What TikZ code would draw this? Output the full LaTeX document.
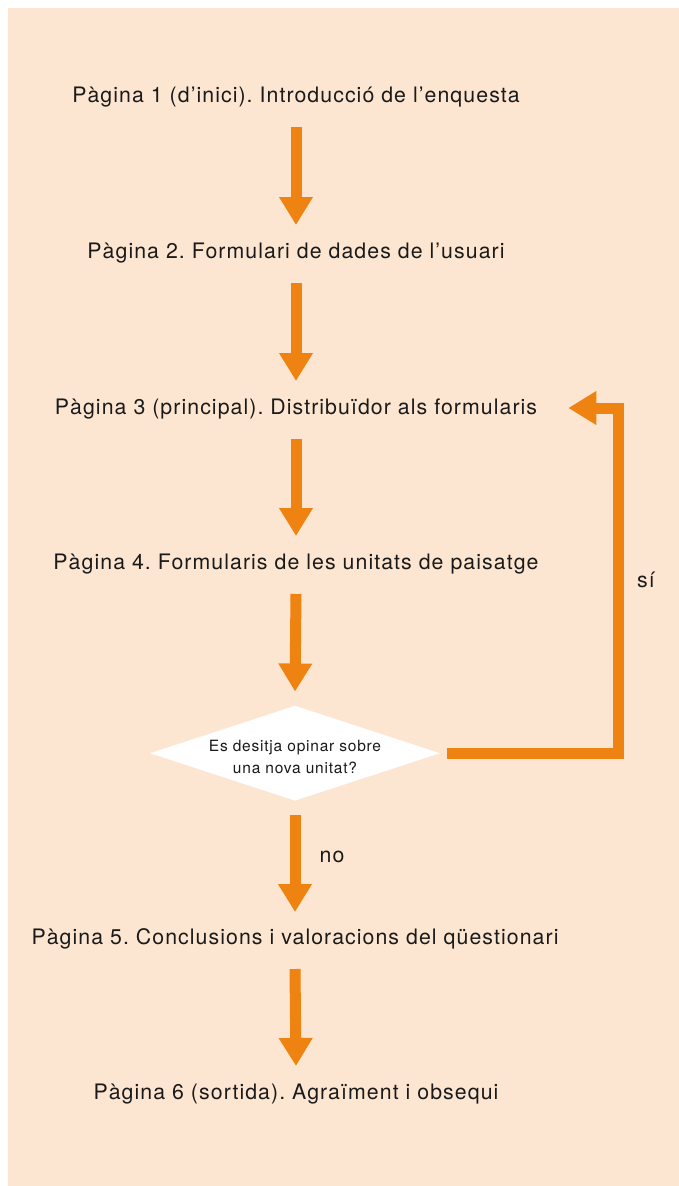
\documentclass[tikz,border=0pt]{standalone}
\usepackage{fontspec}
\setmainfont{TeX Gyre Heros}[LetterSpace=5]
\usetikzlibrary{arrows.meta,shapes.geometric}
\definecolor{peach}{RGB}{253,230,209}
\definecolor{flowor}{RGB}{239,131,17}
\definecolor{ink}{RGB}{26,26,26}
\frenchspacing
\begin{document}
\begin{tikzpicture}[x=1pt,y=-1pt,
  pagetxt/.style={anchor=base,inner sep=0pt,text=ink,font=\fontsize{21.3}{24}\selectfont},
  lbl/.style={anchor=base,inner sep=0pt,text=ink,font=\fontsize{21.3}{24}\selectfont},
  flow/.style={draw=flowor,line width=11pt,line join=miter,-{Triangle[width=32pt,length=28pt]}},
  decision/.style={diamond,fill=white,draw=none,minimum width=290pt,minimum height=95pt,inner sep=0pt,shape aspect=3.05},
  dtxt/.style={inner sep=0pt,align=center,text=ink,font=\fontsize{15.5}{21.7}\selectfont}]
\useasboundingbox (0,0) rectangle (679,1186);
\fill[peach] (8,8) rectangle (679,1186);
\node[pagetxt] (t1) at (296,102.3) {Pàgina 1 (d’inici). Introducció de l’enquesta};
\node[pagetxt] (t2) at (296,258) {Pàgina 2. Formulari de dades de l’usuari};
\node[pagetxt] (t3) at (296,414) {Pàgina 3 (principal). Distribuïdor als formularis};
\node[pagetxt] (t4) at (296,569) {Pàgina 4. Formularis de les unitats de paisatge};
\node[decision] (d) at (295,753.2) {};
\node[dtxt] (dt) at ([yshift=-3.5pt]d.center) {Es desitja opinar sobre\\una nova unitat?};
\node[pagetxt] (t5) at (295,944) {Pàgina 5. Conclusions i valoracions del qüestionari};
\node[pagetxt] (t6) at (296,1099) {Pàgina 6 (sortida). Agraïment i obsequi};
\node[lbl] (no) at (332,862) {no};
\node[lbl] (si) at (646,587) {sí};
\coordinate (loop) at (618,408);
\draw[flow] ([yshift=-25pt]t1.base) -- ([yshift=33pt]t2.base);
\draw[flow] ([yshift=-25pt]t2.base) -- ([yshift=33pt]t3.base);
\draw[flow] ([yshift=-25pt]t3.base) -- ([yshift=33pt]t4.base);
\draw[flow] ([yshift=-25pt]t4.base) -- ([yshift=14pt]d.north);
\draw[flow] ([yshift=-14pt]d.south) -- ([yshift=32pt]t5.base);
\draw[flow] ([yshift=-25pt]t5.base) -- ([yshift=33pt]t6.base);
\draw[flow] ([xshift=7pt]d.east) -| (loop) -- ([xshift=31pt,yshift=6pt]t3.base east);
\end{tikzpicture}
\end{document}
